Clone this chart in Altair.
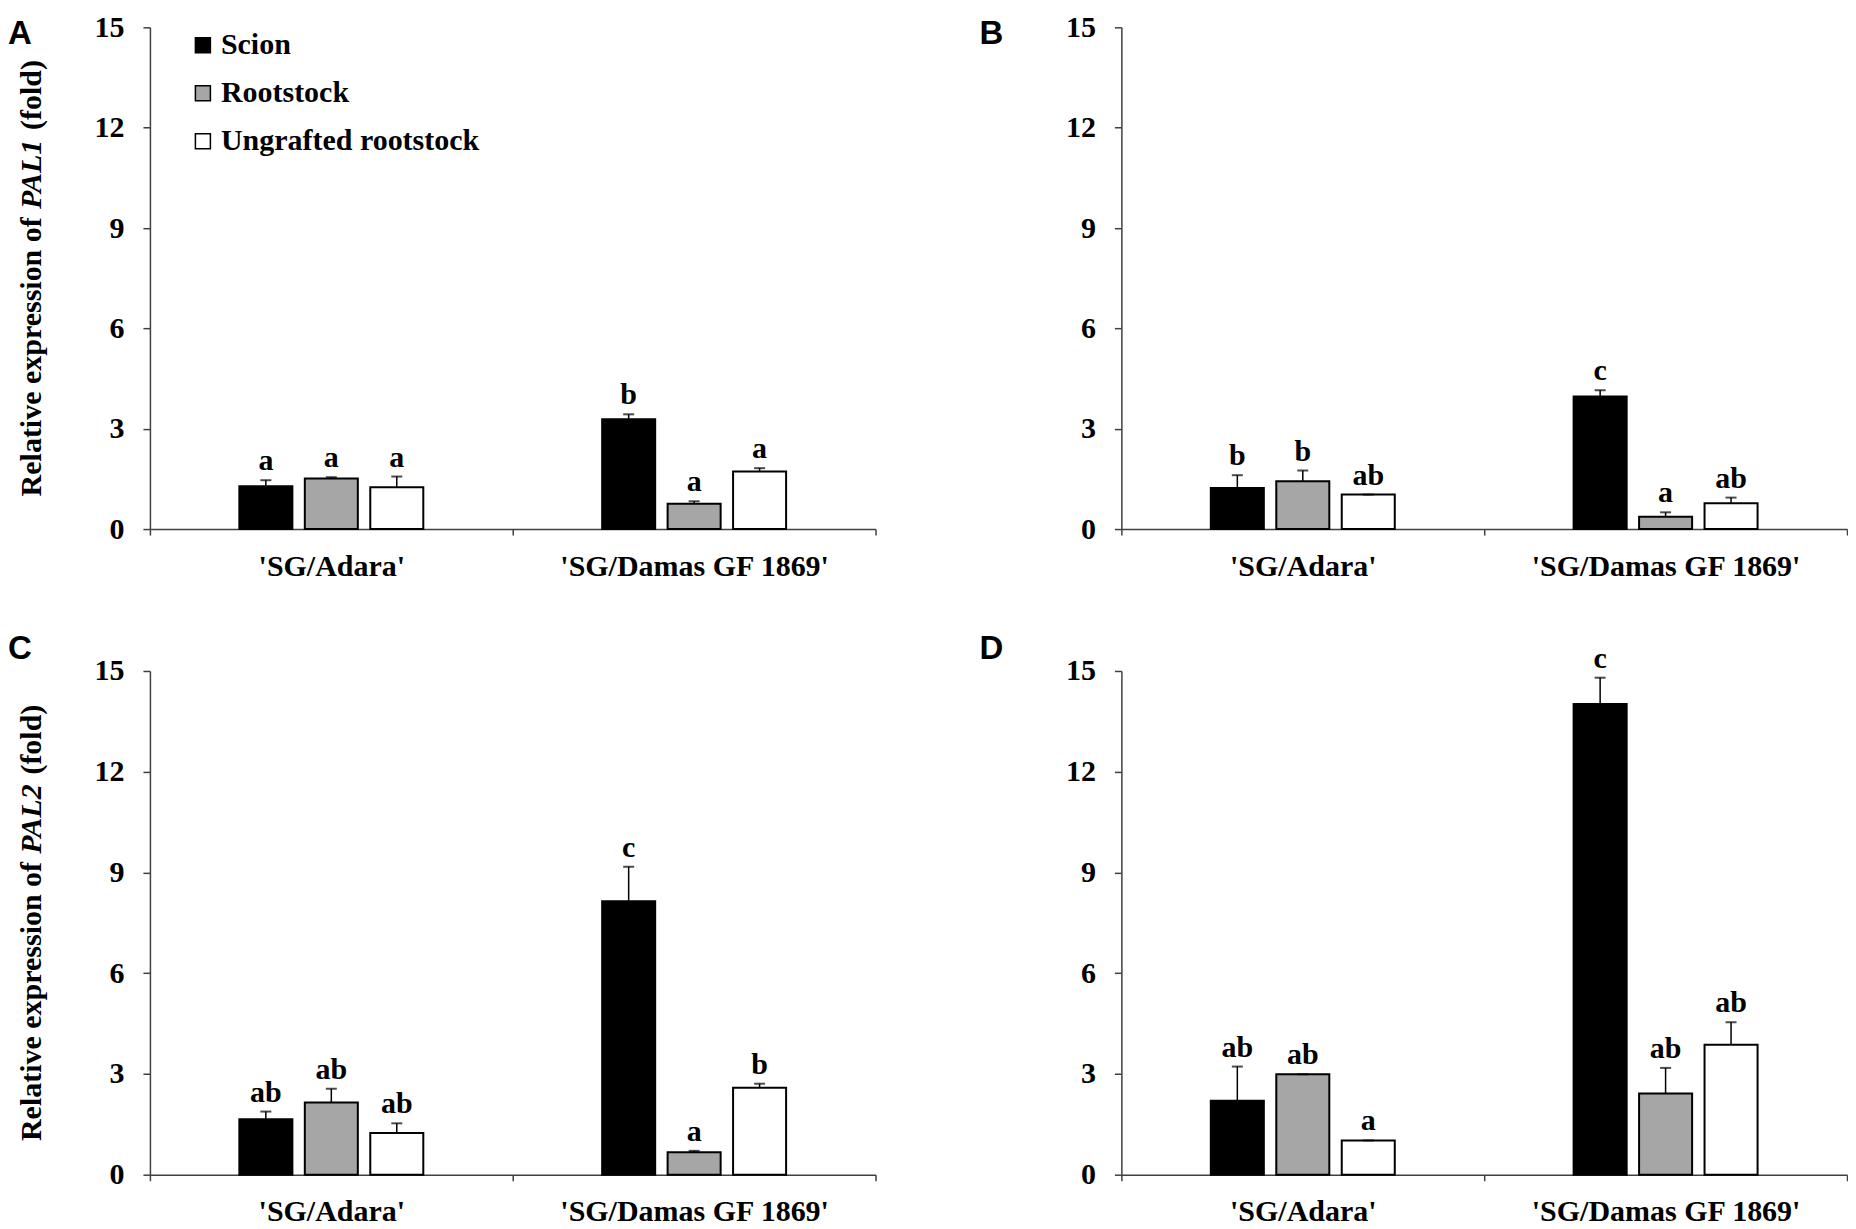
import altair as alt
import pandas as pd

groups = ["'SG/Adara'", "'SG/Damas GF 1869'"]
series = ["Scion", "Rootstock", "Ungrafted rootstock"]
colors = ["#000000", "#a6a6a6", "#ffffff"]
y_ticks = [0, 3, 6, 9, 12, 15]

# order: Adara (Scion, Rootstock, Ungrafted), Damas (Scion, Rootstock, Ungrafted)
a_mean = [1.28, 1.51, 1.25, 3.28, 0.76, 1.72]
a_err = [0.18, 0.04, 0.32, 0.15, 0.07, 0.10]
a_sig = ["a", "a", "a", "b", "a", "a"]

b_mean = [1.23, 1.43, 1.03, 3.96, 0.37, 0.77]
b_err = [0.38, 0.32, 0.0, 0.19, 0.13, 0.17]
b_sig = ["b", "b", "ab", "c", "a", "ab"]

c_mean = [1.65, 2.15, 1.24, 8.14, 0.67, 2.59]
c_err = [0.23, 0.41, 0.29, 1.03, 0.04, 0.12]
c_sig = ["ab", "ab", "ab", "c", "a", "b"]

d_mean = [2.20, 2.99, 1.02, 14.02, 2.42, 3.87]
d_err = [1.02, 0.0, 0.0, 0.78, 0.76, 0.67]
d_sig = ["ab", "ab", "a", "c", "ab", "ab"]

title_parts = ["Relative expression of", "(fold)"]

SERIF = "Liberation Serif"
SANS = "Liberation Sans"
FS = 30
W = 726
H_TOP, H_BOT = 502, 504
AXIS_COLOR = "#404040"

# empty slots on each side of the three bars inside a group
offset_domain = ["_l"] + series + ["_r"]


def panel(letter, means, errs, sigs, gene=None, legend=False, row=0):
    H = H_TOP if row == 0 else H_BOT
    df = pd.DataFrame({
        "group": [g for g in groups for _ in series],
        "series": series * 2,
        "value": means,
        "err": errs,
        "sig": sigs,
    })
    df["upper"] = df["value"] + df["err"]
    base = alt.Chart(df)

    x = alt.X("group:N", sort=groups, title=None,
              scale=alt.Scale(paddingInner=0, paddingOuter=0),
              axis=alt.Axis(labelAngle=0, tickBand="extent", labelLimit=0))
    xo = alt.XOffset("series:N",
                     scale=alt.Scale(domain=offset_domain, paddingInner=0.19,
                                     paddingOuter=0.366))
    y = alt.Y("value:Q", title=None,
              scale=alt.Scale(domain=[0, 15], nice=False),
              axis=alt.Axis(values=y_ticks))

    if legend:
        leg = alt.Legend(orient="none", legendX=38, legendY=3, title=None,
                         symbolType="square", symbolSize=225,
                         symbolStrokeColor="black", symbolStrokeWidth=1.5,
                         symbolOpacity=1, labelFont=SERIF, labelFontSize=FS,
                         labelFontWeight="bold", labelColor="black",
                         rowPadding=18, labelOffset=3, padding=0, labelLimit=0)
    else:
        leg = None

    bars = base.mark_bar(stroke="black", strokeWidth=2).encode(
        x=x, xOffset=xo, y=y,
        color=alt.Color("series:N", scale=alt.Scale(domain=series, range=colors),
                        legend=leg),
    )
    xs = alt.X("group:N", sort=groups, title=None)
    xos = alt.XOffset("series:N")
    rules = base.mark_rule(color="black", strokeWidth=1.5).encode(
        x=xs, xOffset=xos, y=alt.Y("value:Q", title=None), y2="upper:Q")
    caps = base.mark_tick(orient="horizontal", size=11, thickness=2,
                          color="black").encode(
        x=xs, xOffset=xos, y=alt.Y("upper:Q", title=None))
    sig = base.mark_text(font=SERIF, fontSize=FS, fontWeight="bold",
                         baseline="alphabetic", dy=-10, color="black").encode(
        x=xs, xOffset=xos, y=alt.Y("upper:Q", title=None), text="sig:N")

    ly = -9 if row == 0 else -38
    let = alt.Chart(pd.DataFrame({"t": [letter]})).mark_text(
        font=SANS, fontSize=33, fontWeight="bold", align="left",
        baseline="top", color="black").encode(
        text="t:N", x=alt.value(-142), y=alt.value(ly))

    layers = [bars, rules, caps, sig, let]

    if gene is not None:
        sp = 0.25 * FS
        w1 = 9.332 * FS
        w2 = 2.389 * FS
        w3 = 2.333 * FS
        total = w1 + sp + w2 + sp + w3
        y1 = H / 2 + total / 2
        y2 = y1 - w1 - sp
        y3 = y2 - w2 - sp
        tx = -118
        common = dict(font=SERIF, fontSize=FS, fontWeight="bold", angle=270,
                      align="left", baseline="middle", color="black")
        t1 = alt.Chart(pd.DataFrame({"t": [title_parts[0]]})).mark_text(
            **common).encode(text="t:N", x=alt.value(tx), y=alt.value(y1))
        t2 = alt.Chart(pd.DataFrame({"t": [gene]})).mark_text(
            fontStyle="italic", **common).encode(
            text="t:N", x=alt.value(tx), y=alt.value(y2))
        t3 = alt.Chart(pd.DataFrame({"t": [title_parts[1]]})).mark_text(
            **common).encode(text="t:N", x=alt.value(tx), y=alt.value(y3))
        layers += [t1, t2, t3]

    return alt.layer(*layers).properties(width=W, height=H)


pA = panel("A", a_mean, a_err, a_sig, gene="PAL1", legend=True, row=0)
pB = panel("B", b_mean, b_err, b_sig, row=0)
pC = panel("C", c_mean, c_err, c_sig, gene="PAL2", row=1)
pD = panel("D", d_mean, d_err, d_sig, row=1)

row1 = alt.hconcat(pA, pB, spacing=103).resolve_scale(color="independent").resolve_legend(color="independent")
row2 = alt.hconcat(pC, pD, spacing=103).resolve_scale(color="independent").resolve_legend(color="independent")

chart = alt.vconcat(row1, row2, spacing=52).resolve_scale(
    color="independent").resolve_legend(color="independent").properties(
    padding={"top": 4, "left": 0, "right": 0, "bottom": 0}, background="white"
).configure_view(stroke=None).configure_axis(
    grid=False, domainColor=AXIS_COLOR, domainWidth=1.5, tickColor=AXIS_COLOR,
    tickWidth=1.5, labelFont=SERIF, labelFontSize=FS, labelFontWeight="bold",
    labelColor="black",
).configure_axisX(tickSize=6, labelPadding=16).configure_axisY(
    tickSize=7, labelPadding=19)

chart.save("out.html", embed_options={"renderer": "svg", "actions": False})
